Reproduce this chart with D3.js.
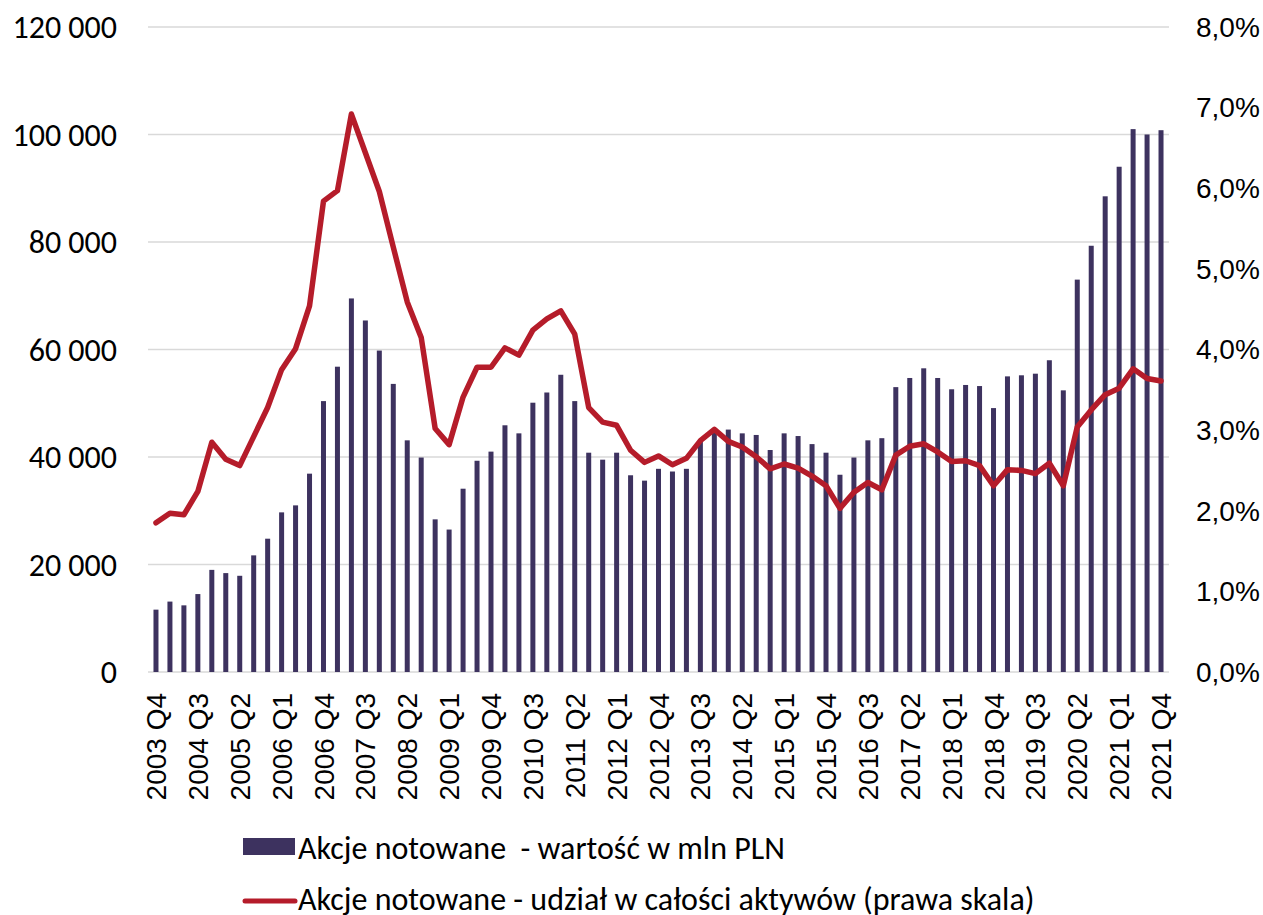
<!DOCTYPE html>
<html>
<head>
<meta charset="utf-8">
<script src="https://cdn.jsdelivr.net/npm/d3@7"></script>
<style>
  body { margin: 0; background: #fff; }
  text { white-space: pre; }
</style>
</head>
<body>
<div id="chart"></div>
<script>
const quarters = [
  '2003 Q4',
  '2004 Q1', '2004 Q2', '2004 Q3', '2004 Q4',
  '2005 Q1', '2005 Q2', '2005 Q3', '2005 Q4',
  '2006 Q1', '2006 Q2', '2006 Q3', '2006 Q4',
  '2007 Q1', '2007 Q2', '2007 Q3', '2007 Q4',
  '2008 Q1', '2008 Q2', '2008 Q3', '2008 Q4',
  '2009 Q1', '2009 Q2', '2009 Q3', '2009 Q4',
  '2010 Q1', '2010 Q2', '2010 Q3', '2010 Q4',
  '2011 Q1', '2011 Q2', '2011 Q3', '2011 Q4',
  '2012 Q1', '2012 Q2', '2012 Q3', '2012 Q4',
  '2013 Q1', '2013 Q2', '2013 Q3', '2013 Q4',
  '2014 Q1', '2014 Q2', '2014 Q3', '2014 Q4',
  '2015 Q1', '2015 Q2', '2015 Q3', '2015 Q4',
  '2016 Q1', '2016 Q2', '2016 Q3', '2016 Q4',
  '2017 Q1', '2017 Q2', '2017 Q3', '2017 Q4',
  '2018 Q1', '2018 Q2', '2018 Q3', '2018 Q4',
  '2019 Q1', '2019 Q2', '2019 Q3', '2019 Q4',
  '2020 Q1', '2020 Q2', '2020 Q3', '2020 Q4',
  '2021 Q1', '2021 Q2', '2021 Q3', '2021 Q4'
];

// wartosc w mln PLN (lewa skala)
const values = [
  11600,
  13100, 12400, 14500, 19000,
  18400, 17900, 21700, 24800,
  29700, 31000, 36900, 50400,
  56800, 69500, 65400, 59800,
  53600, 43100, 39900, 28400,
  26500, 34100, 39300, 41000,
  45900, 44400, 50100, 52000,
  55300, 50400, 40800, 39500,
  40800, 36600, 35600, 37800,
  37300, 37800, 43000, 45100,
  45100, 44400, 44100, 41300,
  44400, 43900, 42400, 40800,
  36700, 39900, 43100, 43500,
  53000, 54700, 56500, 54700,
  52600, 53400, 53200, 49100,
  55000, 55200, 55500, 58000,
  52400, 73000, 79300, 88500,
  94000, 101000, 100000, 100800
];

// udzial w calosci aktywow, % (prawa skala)
const shares = [
  1.85,
  1.97, 1.95, 2.24, 2.85,
  2.64, 2.56, 2.92, 3.28,
  3.75, 4.01, 4.54, 5.84,
  5.97, 6.92, 6.44, 5.96,
  5.27, 4.59, 4.15, 3.02,
  2.82, 3.41, 3.78, 3.78,
  4.02, 3.93, 4.24, 4.38,
  4.48, 4.19, 3.28, 3.10,
  3.06, 2.75, 2.60, 2.68,
  2.57, 2.65, 2.87, 3.01,
  2.86, 2.79, 2.67, 2.52,
  2.58, 2.53, 2.43, 2.31,
  2.03, 2.23, 2.35, 2.26,
  2.69, 2.80, 2.83, 2.73,
  2.61, 2.62, 2.56, 2.31,
  2.51, 2.50, 2.46, 2.59,
  2.31, 3.04, 3.25, 3.44,
  3.52, 3.76, 3.64, 3.61
];

const leftTicks = [0, 20000, 40000, 60000, 80000, 100000, 120000];
const rightTicks = [0, 1, 2, 3, 4, 5, 6, 7, 8];
const seriesNames = [
  'Akcje notowane  - wartość w mln PLN',
  'Akcje notowane - udział w całości aktywów (prawa skala)'
];

const width = 1263;
const height = 915;
const barColor = '#3d325f';
const lineColor = '#b51c2a';
const calibri = "Carlito, Calibri, 'Open Sans', sans-serif";
const arial = "'Liberation Sans', Arial, sans-serif";

const pl = d3.formatLocale({ decimal: ',', thousands: '\u00a0', grouping: [3], currency: ['', ' zł'] });
const fmtNum = pl.format(',d');
const fmtPct = d => pl.format('.1f')(d) + '%';

const svg = d3.select('#chart')
  .append('svg')
  .attr('width', width)
  .attr('height', height);

const x = d3.scalePoint()
  .domain(quarters)
  .range([149, 1168])
  .padding(0.5);

const yLeft = d3.scaleLinear().domain([0, 120000]).range([672, 27]);
const yRight = d3.scaleLinear().domain([0, 8]).range([672, 27]);

// gridlines
svg.append('g')
  .selectAll('line')
  .data(leftTicks)
  .enter()
  .append('line')
  .attr('x1', 148)
  .attr('x2', 1169)
  .attr('y1', d => yLeft(d))
  .attr('y2', d => yLeft(d))
  .attr('stroke', '#d9d9d9')
  .attr('stroke-width', 1.5);

// left axis labels
svg.append('g')
  .selectAll('text')
  .data(leftTicks)
  .enter()
  .append('text')
  .attr('x', 117)
  .attr('y', d => yLeft(d))
  .attr('dy', '0.35em')
  .attr('text-anchor', 'end')
  .style('font-family', calibri)
  .style('font-size', '32px')
  .attr('fill', '#000')
  .text(d => fmtNum(d));

// right axis labels
svg.append('g')
  .selectAll('text')
  .data(rightTicks)
  .enter()
  .append('text')
  .attr('x', 1196)
  .attr('y', d => yRight(d))
  .attr('dy', '0.35em')
  .attr('text-anchor', 'start')
  .style('font-family', arial)
  .style('font-size', '28px')
  .attr('fill', '#000')
  .text(d => fmtPct(d));

// bars
const barW = 5;
svg.append('g')
  .selectAll('rect')
  .data(values)
  .enter()
  .append('rect')
  .attr('x', (d, i) => x(quarters[i]) - barW / 2)
  .attr('y', d => yLeft(d))
  .attr('width', barW)
  .attr('height', d => yLeft(0) - yLeft(d))
  .attr('fill', barColor);

// line
const line = d3.line()
  .x((d, i) => x(quarters[i]))
  .y(d => yRight(d));

svg.append('path')
  .datum(shares)
  .attr('d', line)
  .attr('fill', 'none')
  .attr('stroke', lineColor)
  .attr('stroke-width', 5.5)
  .attr('stroke-linejoin', 'round')
  .attr('stroke-linecap', 'round');

// x labels, every third quarter
svg.append('g')
  .selectAll('text')
  .data(quarters.filter((q, i) => i % 3 === 0))
  .enter()
  .append('text')
  .attr('transform', d => `translate(${x(d)},693) rotate(-90)`)
  .attr('dy', '0.36em')
  .attr('text-anchor', 'end')
  .style('font-family', arial)
  .style('font-size', '28px')
  .attr('fill', '#000')
  .text(d => d);

// legend
const legend = svg.append('g');
legend.append('rect')
  .attr('x', 243)
  .attr('y', 838)
  .attr('width', 52)
  .attr('height', 17)
  .attr('fill', barColor);
legend.append('text')
  .attr('x', 298)
  .attr('y', 848)
  .attr('dy', '0.35em')
  .style('font-family', calibri)
  .style('font-size', '32px')
  .text(seriesNames[0]);

legend.append('line')
  .attr('x1', 245)
  .attr('x2', 295)
  .attr('y1', 901)
  .attr('y2', 901)
  .attr('stroke', lineColor)
  .attr('stroke-width', 5)
  .attr('stroke-linecap', 'round');
legend.append('text')
  .attr('x', 298)
  .attr('y', 899)
  .attr('dy', '0.35em')
  .style('font-family', calibri)
  .style('font-size', '32px')
  .text(seriesNames[1]);
</script>
</body>
</html>
